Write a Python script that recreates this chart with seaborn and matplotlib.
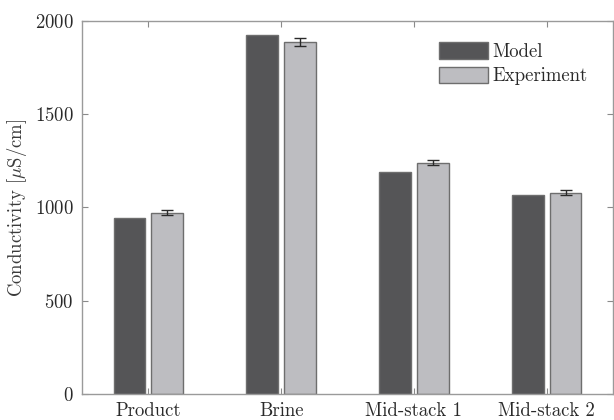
import matplotlib
matplotlib.use("Agg")
import matplotlib.pyplot as plt
import seaborn as sns
import pandas as pd
import numpy as np

categories = ["Product", "Brine", "Mid-stack 1", "Mid-stack 2"]
model = [945, 1925, 1190, 1066]
experiment = [972, 1884, 1240, 1079]
experiment_err = [13, 22, 13, 13]
series = ["Model", "Experiment"]
yticks = [0, 500, 1000, 1500, 2000]

df = pd.DataFrame({
    "category": categories * 2,
    "series": [series[0]] * len(categories) + [series[1]] * len(categories),
    "value": model + experiment,
})

sns.set_theme(style="white")
plt.rcParams["font.family"] = ["cmr10", "DejaVu Serif"]
plt.rcParams["mathtext.fontset"] = "cm"
plt.rcParams["axes.formatter.use_mathtext"] = True

fig = plt.figure(figsize=(6.14, 4.2), dpi=100)
ax = fig.add_axes([0.1336, 0.0619, 0.8648, 0.889])

palette = {"Model": "#555557", "Experiment": "#bdbdc1"}
sns.barplot(data=df, x="category", y="value", hue="series", order=categories,
            hue_order=series, palette=palette, width=0.57, gap=0.16,
            edgecolor="#6e6e6e", linewidth=1.0, saturation=1, errorbar=None,
            ax=ax)

# error bars on the experiment bars, placed at the drawn bar centres
exp_patches = ax.containers[1]
xs = [p.get_x() + p.get_width() / 2 for p in exp_patches]
ax.errorbar(xs, experiment, yerr=experiment_err, fmt="none", ecolor="#2a2a2a",
            elinewidth=1.0, capsize=4, capthick=1.0)

ax.set_xlim(-0.5, len(categories) - 0.5)
ax.set_ylim(0, 2000)
ax.set_yticks(yticks)
ax.set_xlabel("")
ax.set_ylabel(r"Conductivity [$\mu$S/cm]", fontsize=13.5, color="#3a3a3a")

for s in ax.spines.values():
    s.set_visible(True)
    s.set_color("#9a9a9a")
    s.set_linewidth(1.0)

ax.tick_params(axis="both", which="both", direction="in", length=4, width=0.8,
               color="#8a8a8a", labelsize=13.5, labelcolor="#2a2a2a",
               top=True, right=True, bottom=True, left=True, pad=6)

leg = ax.legend(loc="upper left", bbox_to_anchor=(0.672, 0.942), frameon=False,
                fontsize=13.5, handlelength=2.6, handleheight=0.96,
                handletextpad=0.27, labelspacing=0.32, borderaxespad=0.0,
                borderpad=0.0)
for t in leg.get_texts():
    t.set_color("#2a2a2a")

fig.savefig("out.png", dpi=100)
